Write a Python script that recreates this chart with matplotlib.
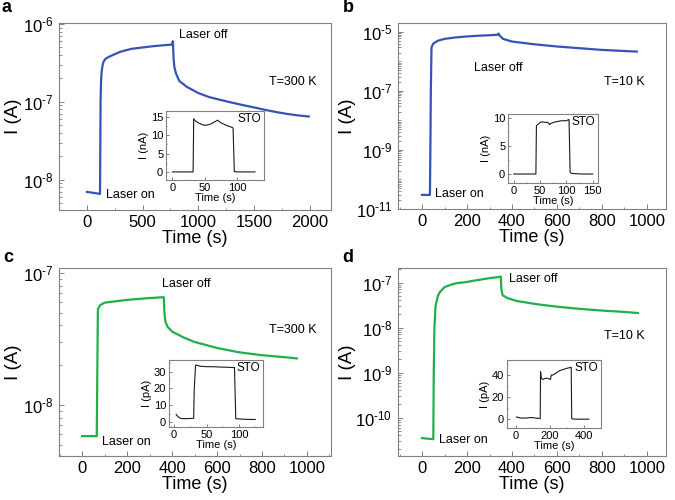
import matplotlib
matplotlib.use("Agg")
import matplotlib.pyplot as plt
from matplotlib.ticker import LogLocator, FixedLocator, AutoMinorLocator, NullFormatter, FuncFormatter
import math

plt.rcParams['font.family'] = ['Liberation Sans', 'DejaVu Sans']
plt.rcParams['mathtext.fontset'] = 'custom'
plt.rcParams['mathtext.rm'] = 'Liberation Sans'
plt.rcParams['mathtext.it'] = 'Liberation Sans'
plt.rcParams['mathtext.default'] = 'regular'

# ---------------- data ----------------
a_t = [0, 60, 118, 120, 123, 127, 132, 140, 150, 170, 200, 250, 300, 400, 500, 600, 700, 768, 771, 774, 778, 785,
       800, 830, 900, 1000, 1100, 1200, 1300, 1400, 1500, 1600, 1700, 1800, 1900, 1990]
a_I = [7.0e-9, 6.8e-9, 6.6e-9, 2e-8, 1.0e-7, 1.8e-7, 2.4e-7, 2.9e-7, 3.3e-7, 3.6e-7, 3.8e-7, 4.1e-7, 4.4e-7,
       4.8e-7, 5.0e-7, 5.2e-7, 5.35e-7, 5.45e-7, 6.0e-7, 5.0e-7, 3.6e-7, 2.8e-7,
       2.3e-7, 1.85e-7, 1.55e-7, 1.3e-7, 1.15e-7, 1.06e-7, 9.8e-8, 9.1e-8, 8.5e-8, 7.9e-8, 7.4e-8, 7.0e-8, 6.7e-8, 6.5e-8]

b_t = [0, 35, 37, 39, 42, 50, 70, 100, 150, 200, 250, 300, 336, 340, 345, 360, 400, 500, 600, 700, 800, 900, 955]
b_I = [3e-11, 3e-11, 1e-9, 1e-7, 3e-6, 4e-6, 5e-6, 5.8e-6, 6.5e-6, 7e-6, 7.4e-6, 7.7e-6, 8e-6, 8.8e-6, 7.5e-6,
       5.8e-6, 4.7e-6, 3.8e-6, 3.2e-6, 2.8e-6, 2.45e-6, 2.25e-6, 2.15e-6]

c_t = [0, 65, 67, 70, 80, 100, 150, 200, 250, 300, 363, 366, 370, 380, 400, 450, 500, 600, 700, 800, 900, 955]
c_I = [5.8e-9, 5.8e-9, 1.5e-8, 5.3e-8, 5.7e-8, 5.95e-8, 6.1e-8, 6.25e-8, 6.35e-8, 6.45e-8, 6.55e-8, 5.0e-8, 4.3e-8,
       3.9e-8, 3.6e-8, 3.25e-8, 3.0e-8, 2.7e-8, 2.5e-8, 2.38e-8, 2.3e-8, 2.25e-8]

d_t = [0, 50, 52, 55, 60, 70, 80, 100, 130, 160, 180, 200, 230, 260, 300, 340, 350, 353, 358, 380, 420, 500, 600,
       700, 800, 900, 960]
d_I = [3.5e-11, 3.3e-11, 1e-9, 1e-8, 3e-8, 5e-8, 6.2e-8, 7.9e-8, 9e-8, 9.8e-8, 1.0e-7, 1.03e-7, 1.1e-7, 1.16e-7,
       1.25e-7, 1.32e-7, 1.36e-7, 7e-8, 5.2e-8, 4.5e-8, 3.9e-8, 3.35e-8, 2.9e-8, 2.6e-8, 2.38e-8, 2.22e-8, 2.1e-8]

ai_t = [0, 32, 33, 35, 38, 42, 46, 50, 55, 60, 65, 68, 70, 72, 75, 80, 85, 90, 94, 96, 100, 110, 128]
ai_I = [0, 0, 14.5, 14.0, 13.6, 13.2, 12.9, 12.7, 12.8, 13.1, 13.6, 13.9, 14.1, 13.8, 13.4, 13.0, 12.6, 12.3, 12.0,
        0.1, 0, 0, 0]

bi_t = [0, 42, 43, 45, 50, 55, 60, 65, 68, 70, 75, 80, 90, 100, 104, 105, 107, 110, 130, 150]
bi_I = [0, 0, 8.6, 8.8, 9.2, 9.3, 9.2, 9.2, 8.8, 9.0, 9.2, 9.3, 9.5, 9.5, 9.7, 9.7, 0.3, 0.1, 0.0, 0.0]

ci_t = [3, 5, 8, 12, 20, 30, 31, 33, 40, 50, 60, 70, 80, 90, 93, 95, 100, 110, 120, 125]
ci_I = [4.5, 3.5, 2.5, 2.0, 2.0, 2.2, 20, 34.0, 33.3, 33.0, 33.0, 32.8, 32.7, 32.5, 32.5, 2.0, 1.8, 1.6, 1.5, 1.5]

di_t = [6, 30, 60, 90, 120, 145, 147, 152, 160, 175, 190, 205, 210, 220, 240, 260, 280, 300, 327, 330, 345, 370, 400, 431]
di_I = [2, 1, 1, 1.5, 1.0, 0.5, 43, 37, 36, 37, 37, 36, 40, 40, 42, 44, 45, 46, 47, 0.5, 0, 0, 0, 0]

BLUE = '#3553b5'
GREEN = '#1fb04a'
GRAY = '#808080'

fig = plt.figure(figsize=(6.75, 5), dpi=100)


def add_ax(l, r, t, b):
    return fig.add_axes([l / 675, 1 - b / 500, (r - l) / 675, (b - t) / 500])


def style(ax, size, major_len=3.5, minor_len=1.8, pad=3.5):
    for s in ax.spines.values():
        s.set_color(GRAY)
        s.set_linewidth(0.8)
    ax.tick_params(which='both', direction='in', color=GRAY, labelsize=size, pad=pad)
    ax.tick_params(which='major', length=major_len, width=0.7)
    ax.tick_params(which='minor', length=minor_len, width=0.6)


def exp_fmt(v, pos):
    e = int(round(math.log10(v)))
    s = str(e).replace('-', '\u2010')
    return r'$10^{%s}$' % s


def main_panel(box, t, I, color, xlim, xticks, ylim, yticks, txt_off, txt_T, txt_on, Tlabel):
    ax = add_ax(*box)
    ax.plot(t, I, color=color, lw=1.6, solid_joinstyle='round')
    ax.set_yscale('log')
    ax.set_xlim(*xlim)
    ax.set_ylim(*ylim)
    ax.set_xticks(xticks)
    ax.xaxis.set_minor_locator(AutoMinorLocator(2))
    ax.yaxis.set_major_locator(FixedLocator(yticks))
    ax.yaxis.set_minor_locator(LogLocator(base=10, subs=range(1, 10), numticks=30))
    ax.yaxis.set_minor_formatter(NullFormatter())
    ax.yaxis.set_major_formatter(FuncFormatter(exp_fmt))
    style(ax, 12)
    ax.tick_params(axis='y', pad=4)
    ax.set_xlabel('Time (s)', fontsize=13, labelpad=0)
    ax.set_ylabel('I (A)', fontsize=13.5, va='center')
    w = box[1] - box[0]
    ax.yaxis.set_label_coords((13 + (0 if box[0] < 300 else 335) - box[0]) / w, 0.5)
    ax.text(txt_off[0], txt_off[1], 'Laser off', transform=ax.transAxes, fontsize=9, va='center', ha='left')
    ax.text(txt_T[0], txt_T[1], Tlabel, transform=ax.transAxes, fontsize=9, va='center', ha='left')
    ax.text(txt_on[0], txt_on[1], 'Laser on', transform=ax.transAxes, fontsize=9, va='center', ha='left')
    return ax


def inset(box, t, I, xlim, xticks, ylim, yticks, ylabel):
    ax = add_ax(*box)
    ax.plot(t, I, color='#1a1a1a', lw=0.8)
    ax.set_xlim(*xlim)
    ax.set_ylim(*ylim)
    ax.set_xticks(xticks)
    ax.set_yticks(yticks)
    ax.xaxis.set_minor_locator(AutoMinorLocator(2))
    ax.yaxis.set_minor_locator(AutoMinorLocator(2))
    style(ax, 8, 2, 1, 2)
    ax.set_xlabel('Time (s)', fontsize=8, labelpad=0)
    ax.set_ylabel(ylabel, fontsize=8, labelpad=1)
    ax.text(0.97, 0.88, 'STO', transform=ax.transAxes, fontsize=8.5, ha='right', va='center')
    return ax


# panel a
main_panel((59, 331, 23, 210), a_t, a_I, BLUE, (-250, 2190), [0, 500, 1000, 1500, 2000],
           (4.1e-9, 1.03e-6), [1e-8, 1e-7, 1e-6],
           (0.44, 0.936), (0.772, 0.684), (0.173, 0.08), 'T=300 K')
inset((166, 264, 111, 180), ai_t, ai_I, (-10, 142), [0, 50, 100], (-2.2, 16.6), [0, 5, 10, 15], 'I (nA)')

# panel b
main_panel((398, 666, 23, 209), b_t, b_I, BLUE, (-107, 1085), [0, 200, 400, 600, 800, 1000],
           (1e-11, 2e-5), [1e-11, 1e-9, 1e-7, 1e-5],
           (0.284, 0.758), (0.769, 0.683), (0.138, 0.08), 'T=10 K')
inset((508, 598, 114, 183), bi_t, bi_I, (-11, 160), [0, 50, 100, 150], (-1.6, 10.7), [0, 5, 10], 'I (nA)')

# panel c
main_panel((59, 331, 268, 456), c_t, c_I, GREEN, (-103, 1107), [0, 200, 400, 600, 800, 1000],
           (4.1e-9, 1.09e-7), [1e-8, 1e-7],
           (0.379, 0.915), (0.772, 0.67), (0.158, 0.074), 'T=300 K')
inset((169, 263, 360, 427), ci_t, ci_I, (-8, 137), [0, 50, 100], (-3, 37), [0, 10, 20, 30], 'I (pA)')

# panel d
main_panel((398, 666, 268, 456), d_t, d_I, GREEN, (-107, 1085), [0, 200, 400, 600, 800, 1000],
           (1.4e-11, 2.1e-7), [1e-10, 1e-9, 1e-8, 1e-7],
           (0.414, 0.94), (0.769, 0.638), (0.153, 0.085), 'T=10 K')
inset((507, 601, 360, 428), di_t, di_I, (-50, 502), [0, 200, 400], (-8, 53.6), [0, 20, 40], 'I (pA)')

# panel letters
for letter, x, y in [('a', 6, 8), ('b', 348, 8), ('c', 8, 258), ('d', 348, 258)]:
    fig.text(x / 675, 1 - y / 500, letter, fontsize=13, fontweight='bold', ha='center', va='center')

fig.savefig('out.png', dpi=100)
